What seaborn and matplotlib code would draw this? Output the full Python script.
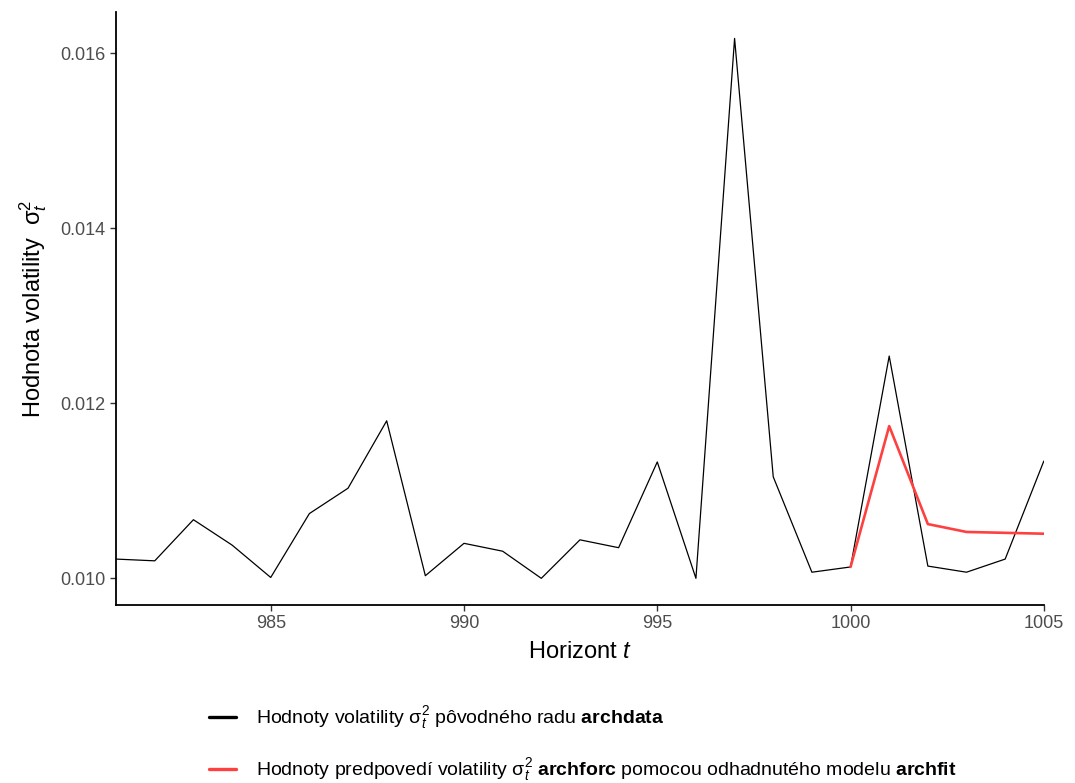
import numpy as np
import pandas as pd
import seaborn as sns
import matplotlib
matplotlib.use("Agg")
import matplotlib.pyplot as plt
from matplotlib.lines import Line2D

# Observed conditional variance of the series and the model forecast
horizon = list(range(981, 1006))
volatility = [0.01022, 0.01020, 0.01067, 0.01038, 0.01001, 0.01074, 0.01103,
              0.01180, 0.01003, 0.01040, 0.01031, 0.01000, 0.01044, 0.01035,
              0.01133, 0.01000, 0.01617, 0.01116, 0.01007, 0.01013, 0.01254,
              0.01014, 0.01007, 0.01022, 0.01134]
forecast_horizon = list(range(1000, 1006))
forecast = [0.01013, 0.01174, 0.01062, 0.01053, 0.01052, 0.01051]

y_ticks = [0.010, 0.012, 0.014, 0.016]
x_ticks = [985, 990, 995, 1000, 1005]

sig = r"\mathrm{\sigma}_t^2"
label_data = rf"Hodnoty volatility ${sig}$ pôvodného radu $\mathbf{{archdata}}$"
label_fore = (rf"Hodnoty predpovedí volatility ${sig}$ $\mathbf{{archforc}}$ "
              r"pomocou odhadnutého modelu $\mathbf{archfit}$")

sns.set_theme(style="ticks")
plt.rcParams["font.family"] = ["Liberation Sans", "DejaVu Sans"]
plt.rcParams["mathtext.fontset"] = "custom"
plt.rcParams["mathtext.rm"] = "Liberation Sans"
plt.rcParams["mathtext.it"] = "Liberation Sans:italic"
plt.rcParams["mathtext.bf"] = "Liberation Sans:bold"

df = pd.concat([
    pd.DataFrame({"t": horizon, "value": volatility, "series": "data"}),
    pd.DataFrame({"t": forecast_horizon, "value": forecast, "series": "forecast"}),
])

colors = {"data": "#000000", "forecast": "#FF4040"}
widths = {"data": 0.9, "forecast": 1.9}

fig = plt.figure(figsize=(10.75, 7.83), dpi=100)
ax = fig.add_axes([0.108, 0.2273, 0.863, 0.7574])

for name in ["data", "forecast"]:
    sub = df[df["series"] == name]
    sns.lineplot(data=sub, x="t", y="value", color=colors[name],
                 linewidth=widths[name], ax=ax, legend=False)

ax.set_xlim(981, 1005)
ax.set_ylim(0.009695, 0.016472)
ax.set_xticks(x_ticks)
ax.set_yticks(y_ticks)
ax.set_xticklabels([str(v) for v in x_ticks])
ax.set_yticklabels([f"{v:.3f}" for v in y_ticks])
ax.tick_params(axis="both", colors="#333333", labelcolor="#4D4D4D",
               labelsize=13, length=4, width=1)
for side in ["top", "right"]:
    ax.spines[side].set_visible(False)
for side in ["left", "bottom"]:
    ax.spines[side].set_color("black")
    ax.spines[side].set_linewidth(1.3)

ax.set_xlabel(r"Horizont $t$", fontsize=17, color="black", labelpad=6)
ax.set_ylabel(rf"Hodnota volatility  ${sig}$", fontsize=17, color="black",
              labelpad=8)

handles = [Line2D([0], [0], color=colors["data"], linewidth=2.4),
           Line2D([0], [0], color=colors["forecast"], linewidth=2.4)]
fig.legend(handles, [label_data, label_fore], loc="upper left",
           bbox_to_anchor=(0.1783, 0.1225), frameon=False, fontsize=14,
           labelcolor="black", handlelength=1.4, handletextpad=1.0,
           labelspacing=1.28)

fig.savefig("out.png", dpi=100)
